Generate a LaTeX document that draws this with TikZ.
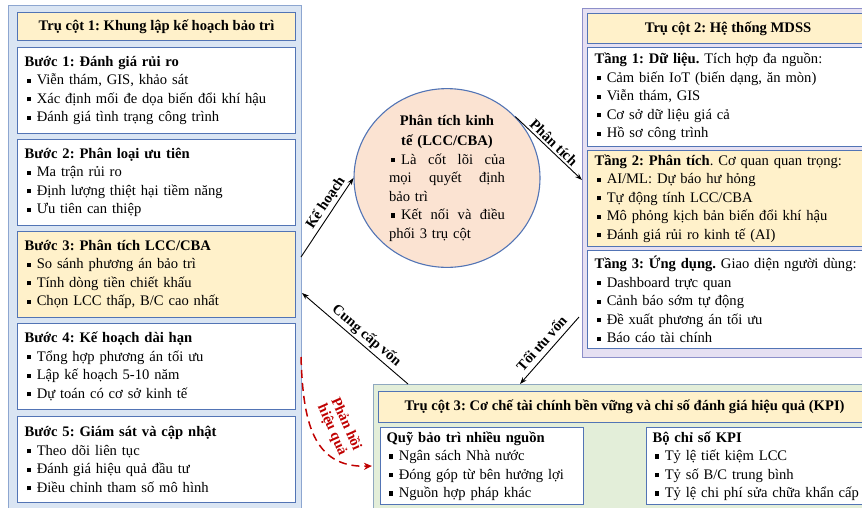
\documentclass[tikz,border=0pt]{standalone}
\usepackage{fontspec}
\setmainfont{Liberation Serif}
\usepackage{xcolor}
\usetikzlibrary{shapes.geometric,arrows.meta}
\frenchspacing

\definecolor{boxblue}{HTML}{5274B5}
\definecolor{paneloneblue}{HTML}{DAE5F3}
\definecolor{panelonedraw}{HTML}{8DA6D0}
\definecolor{paneltwolilac}{HTML}{E6E0F2}
\definecolor{paneltwodraw}{HTML}{8D8FC9}
\definecolor{panelthreegreen}{HTML}{E3EED9}
\definecolor{panelthreedraw}{HTML}{8FA8BF}
\definecolor{titleyellow}{HTML}{FFF1CA}
\definecolor{corepeach}{HTML}{FBE3D2}
\definecolor{feedbackred}{HTML}{C00000}

\newcommand{\blt}{\hspace{2pt}\rule[2pt]{4.2pt}{4.2pt}\hspace{6pt}}
\newcommand{\coreline}[1]{\leavevmode\hbox to 116pt{#1}}

\tikzset{
	panel/.style={line width=1.2pt, anchor=north west, inner sep=0pt},
	titlebox/.style={draw=boxblue, fill=titleyellow, line width=1.1pt, anchor=north west, font=\fontsize{14.6}{16}\selectfont\bfseries, inner sep=0pt},
	stepbox/.style={draw=boxblue, fill=white, line width=1.1pt, anchor=north west, minimum width=278pt, minimum height=86pt, text width=264pt, inner xsep=7pt, align=left},
	tierbox/.style={stepbox, minimum width=281pt, text width=267pt},
	flowarrow/.style={-{Stealth[length=7pt,width=5pt]}, line width=0.9pt},
	flowlabel/.style={font=\fontsize{14.6}{16}\selectfont\bfseries, sloped, above, inner sep=2pt}
}

\begin{document}
\begin{tikzpicture}[x=1pt, y=-1pt, font=\fontsize{14.6}{18.5}\selectfont]
	\useasboundingbox (0,0) rectangle (862,507);
	\clip (0,0) rectangle (862,507);

	% Tru cot 1
	\node[panel, draw=panelonedraw, fill=paneloneblue, minimum width=293pt, minimum height=515pt] (p1) at (8,5) {};
	\node[titlebox, minimum width=278pt, minimum height=28pt] (t1) at (17,12) {Trụ cột 1: Khung lập kế hoạch bảo trì};
	\node[stepbox] (s1) at (17,47) {\textbf{Bước 1: Đánh giá rủi ro}\\ \blt Viễn thám, GIS, khảo sát\\ \blt Xác định mối đe dọa biến đổi khí hậu\\ \blt Đánh giá tình trạng công trình};
	\node[stepbox] (s2) at (17,139) {\textbf{Bước 2: Phân loại ưu tiên}\\ \blt Ma trận rủi ro\\ \blt Định lượng thiệt hại tiềm năng\\ \blt Ưu tiên can thiệp};
	\node[stepbox, fill=titleyellow] (s3) at (17,231) {\textbf{Bước 3: Phân tích LCC/CBA}\\ \blt So sánh phương án bảo trì\\ \blt Tính dòng tiền chiết khấu\\ \blt Chọn LCC thấp, B/C cao nhất};
	\node[stepbox] (s4) at (17,323) {\textbf{Bước 4: Kế hoạch dài hạn}\\ \blt Tổng hợp phương án tối ưu\\ \blt Lập kế hoạch 5-10 năm\\ \blt Dự toán có cơ sở kinh tế};
	\node[stepbox] (s5) at (17,416) {\textbf{Bước 5: Giám sát và cập nhật}\\ \blt Theo dõi liên tục\\ \blt Đánh giá hiệu quả đầu tư\\ \blt Điều chỉnh tham số mô hình};

	% Tru cot 2
	\node[panel, draw=paneltwodraw, fill=paneltwolilac, minimum width=300pt, minimum height=349pt] (p2) at (582,8) {};
	\node[titlebox, minimum width=281pt, minimum height=30pt] (t2) at (587,13) {Trụ cột 2: Hệ thống MDSS};
	\node[tierbox, minimum height=99pt] (l1) at (587,47) {\textbf{Tầng 1: Dữ liệu.} Tích hợp đa nguồn:\\ \blt Cảm biến IoT (biến dạng, ăn mòn)\\ \blt Viễn thám, GIS\\ \blt Cơ sở dữ liệu giá cả\\ \blt Hồ sơ công trình};
	\node[tierbox, fill=titleyellow, minimum height=96pt] (l2) at (587,150) {\textbf{Tầng 2: Phân tích}. Cơ quan quan trọng:\\ \blt AI/ML: Dự báo hư hỏng\\ \blt Tự động tính LCC/CBA\\ \blt Mô phỏng kịch bản biến đổi khí hậu\\ \blt Đánh giá rủi ro kinh tế (AI)};
	\node[tierbox, minimum height=98pt] (l3) at (587,250) {\textbf{Tầng 3: Ứng dụng.} Giao diện người dùng:\\ \blt Dashboard trực quan\\ \blt Cảnh báo sớm tự động\\ \blt Đề xuất phương án tối ưu\\ \blt Báo cáo tài chính};

	% Tru cot 3
	\node[panel, draw=panelthreedraw, fill=panelthreegreen, minimum width=500pt, minimum height=130pt] (p3) at (373,384) {};
	\node[titlebox, minimum width=492pt, minimum height=31pt] (t3) at (378,391) {Trụ cột 3: Cơ chế tài chính bền vững và chỉ số đánh giá hiệu quả (KPI)};
	\node[stepbox, minimum width=203pt, text width=191pt, inner xsep=6pt, minimum height=77pt] (f1) at (380,427) {\textbf{Quỹ bảo trì nhiều nguồn}\\ \blt Ngân sách Nhà nước\\ \blt Đóng góp từ bên hưởng lợi\\ \blt Nguồn hợp pháp khác};
	\node[stepbox, minimum width=230pt, text width=218pt, inner xsep=6pt, minimum height=77pt] (k1) at (646,427) {\textbf{Bộ chỉ số KPI}\\ \blt Tỷ lệ tiết kiệm LCC\\ \blt Tỷ số B/C trung bình\\ \blt Tỷ lệ chi phí sửa chữa khẩn cấp};

	% Phan tich kinh te
	\node[ellipse, draw=boxblue, fill=corepeach, line width=1.1pt, minimum width=186pt, minimum height=162pt, inner sep=0pt, text width=116pt, align=center] (core) at (447,178)
	{
		{\bfseries Phân tích kinh\\[2pt] tế (LCC/CBA)}\\
		\coreline{\blt Là\hfill cốt\hfill lõi\hfill của}\\
		\coreline{mọi\hfill quyết\hfill định}\\
		\coreline{bảo trì\hfill}\\
		\coreline{\blt Kết\hfill nối\hfill và\hfill điều}\\
		\coreline{phối 3 trụ cột\hfill}
	};

	\coordinate (p1a) at (301,257);
	\coordinate (p1b) at (302,293);
	\coordinate (p1c) at (301,357);
	\coordinate (p2a) at (582,180);
	\coordinate (p2b) at (579,317);
	\coordinate (p3a) at (520,384);
	\coordinate (p3b) at (408,384);
	\coordinate (p3c) at (372,466);

	\draw[flowarrow] (p1a) -- (core.west) node[flowlabel, pos=0.62] {Kế hoạch};
	\draw[flowarrow] (core.42) -- (p2a) node[flowlabel, midway] {Phân tích};
	\draw[flowarrow] (p2b) -- (p3a) node[flowlabel, pos=0.5, inner sep=5pt] {Tối ưu vốn};
	\draw[flowarrow] (p3b) -- (p1b) node[flowlabel, pos=0.45] {Cung cấp vốn};

	\draw[feedbackred, line width=1.5pt, dash pattern=on 8pt off 5pt, -{Stealth[length=8pt,width=7pt]}] (p1c) .. controls (303,420) and (312,468) .. (p3c);
	\node[text=feedbackred, font=\fontsize{14.6}{15}\selectfont\bfseries, rotate=-66, align=center] (fb) at (339,427) {Phản hồi\\ hiệu quả};
\end{tikzpicture}
\end{document}
